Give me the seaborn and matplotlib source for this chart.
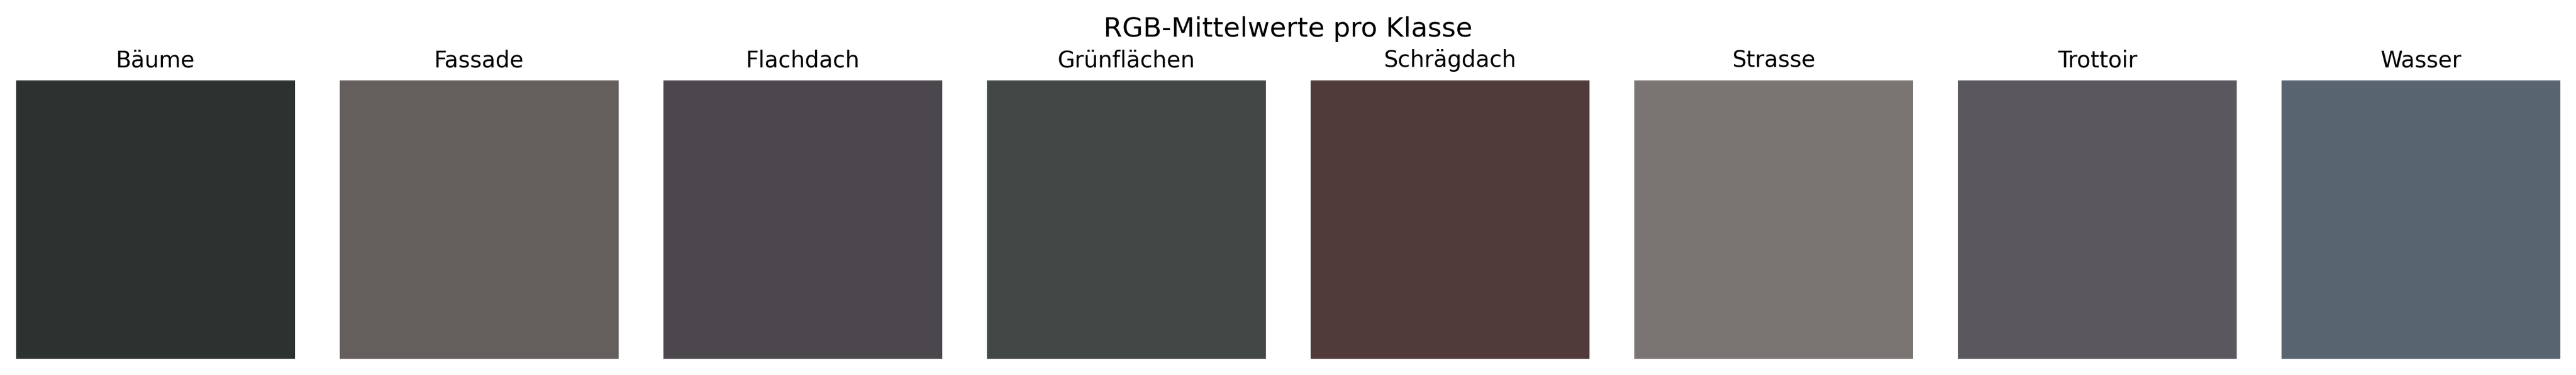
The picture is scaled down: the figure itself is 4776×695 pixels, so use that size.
import numpy as np
import seaborn as sns
import matplotlib.pyplot as plt
from matplotlib.colors import ListedColormap

# mittlere RGB-Werte je Klasse (0-255)
klassen = ['Bäume', 'Fassade', 'Flachdach', 'Grünflächen',
           'Schrägdach', 'Strasse', 'Trottoir', 'Wasser']
r_mittel = [44, 100, 76, 65, 80, 122, 90, 88]
g_mittel = [50, 94, 71, 71, 58, 116, 88, 100]
b_mittel = [48, 93, 77, 69, 58, 115, 94, 112]

W, H = 4776, 695
fig = plt.figure(figsize=(W / 300, H / 300), dpi=300)

for i, name in enumerate(klassen):
	farbe = (r_mittel[i] / 255, g_mittel[i] / 255, b_mittel[i] / 255)
	ax = fig.add_axes([(30 + i * 600) / W, 30 / H, 517 / W, 516 / H])
	sns.heatmap(np.array([[1.0]]), ax=ax, cmap=ListedColormap([farbe]),
		cbar=False, xticklabels=False, yticklabels=False)
	ax.set_title(name, fontsize=10)
	ax.axis('off')

fig.suptitle('RGB-Mittelwerte pro Klasse', fontsize=12, y=1 - 68 / H, va='baseline')
plt.savefig('out.png', dpi=300)
